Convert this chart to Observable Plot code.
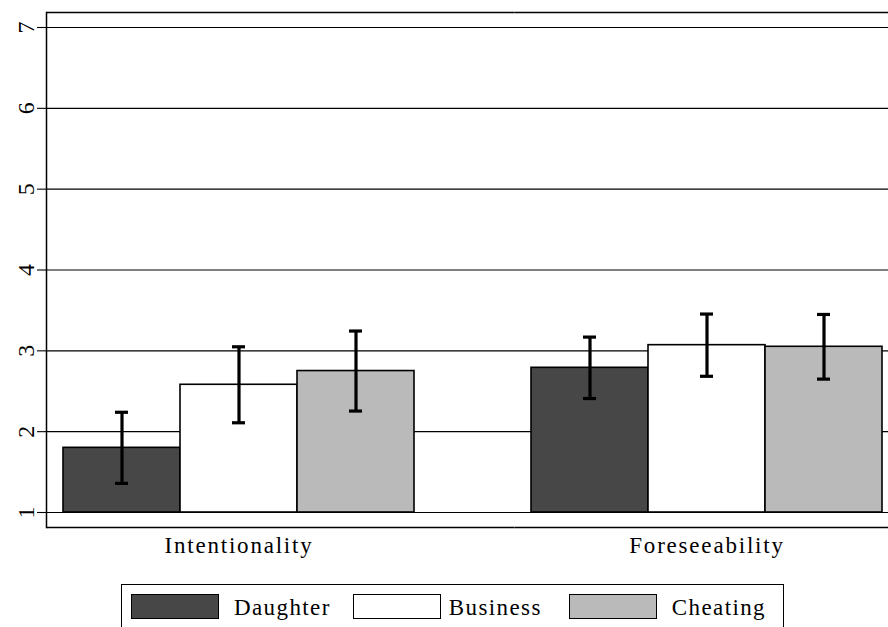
<!DOCTYPE html>
<html>
<head>
<meta charset="utf-8">
<script src="https://cdn.jsdelivr.net/npm/d3@7"></script>
<script src="https://cdn.jsdelivr.net/npm/@observablehq/plot@0.6"></script>
<style>
  html, body { margin: 0; padding: 0; background: #fff; overflow: hidden; width: 888px; height: 627px; }
  #chart svg { display: block; }
  #chart [aria-label="text"] text { letter-spacing: 1.8px; }
  #chart [aria-label="y-axis tick label"], #chart [aria-label="y-axis tick label"] text { font-size: 24px !important; }
  #legend {
    margin-top: 24px; margin-left: 121px; width: 663px; height: 48px;
    border: 1.5px solid #000; box-sizing: border-box;
    display: flex; align-items: flex-start; padding-top: 9px;
    font-family: "Liberation Serif", serif; font-size: 23px; letter-spacing: 1.4px; color: #000;
  }
  #legend .sw { width: 88px; height: 25px; border: 1.5px solid #000; box-sizing: border-box; flex: none; }
  #legend .lab { line-height: 27px; white-space: nowrap; }
</style>
</head>
<body>
<div id="chart"></div>
<div id="legend"></div>
<script>
// Data
const measures = ["Intentionality", "Foreseeability"];
const scenarios = ["Daughter", "Business", "Cheating"];
const intentionalityMeans = [1.80, 2.58, 2.75];
const intentionalityErrors = [0.44, 0.47, 0.495];
const foreseeabilityMeans = [2.79, 3.07, 3.05];
const foreseeabilityErrors = [0.38, 0.385, 0.40];
const yTicks = [1, 2, 3, 4, 5, 6, 7];
const scenarioFills = ["#474747", "#ffffff", "#bababa"];

const meanRows = [intentionalityMeans, foreseeabilityMeans];
const errorRows = [intentionalityErrors, foreseeabilityErrors];
const data = [];
measures.forEach((m, i) => scenarios.forEach((s, j) => {
  data.push({measure: m, scenario: s, mean: meanRows[i][j], err: errorRows[i][j]});
}));

const ink = "#000";
const plot = Plot.plot({
  width: 888,
  height: 560,
  marginLeft: 46,
  marginRight: 0,
  marginTop: 12,
  marginBottom: 33,
  style: {fontFamily: "'Liberation Serif', serif", background: "#fff", color: ink},
  fx: {domain: measures, range: [46, 982], padding: 0, label: null, axis: null},
  x: {domain: scenarios, paddingInner: 0, paddingOuter: 0.4886, align: 0.148, axis: null},
  y: {domain: [1, 7], insetTop: 15, insetBottom: 15, label: null},
  color: {domain: scenarios, range: scenarioFills},
  marks: [
    Plot.gridY(yTicks, {stroke: ink, strokeOpacity: 1, strokeWidth: 1.1}),
    Plot.axisY(yTicks, {
      anchor: "left", tickSize: 9, tickPadding: 4, tickRotate: -90,
      textAnchor: "middle", lineAnchor: "bottom", tickFormat: d => String(d),
      fontSize: 24, label: null, stroke: ink, strokeWidth: 1.1
    }),
    // group labels, centred under the middle bar of each group
    Plot.text(measures, {
      fx: d => d, x: () => scenarios[1], text: d => d,
      frameAnchor: "bottom", lineAnchor: "top", dy: 9,
      fontSize: 23, fill: ink
    }),
    Plot.barY(data, {
      fx: "measure", x: "scenario", y1: 1, y2: "mean",
      fill: "scenario", stroke: ink, strokeWidth: 1.6
    }),
    Plot.ruleX(data, {
      fx: "measure", x: "scenario",
      y1: d => d.mean - d.err, y2: d => d.mean + d.err,
      stroke: ink, strokeWidth: 3.2
    }),
    Plot.tickY(data, {
      fx: "measure", x: "scenario", y: d => d.mean + d.err,
      stroke: ink, strokeWidth: 3.2, insetLeft: 52, insetRight: 52
    }),
    Plot.tickY(data, {
      fx: "measure", x: "scenario", y: d => d.mean - d.err,
      stroke: ink, strokeWidth: 3.2, insetLeft: 52, insetRight: 52
    }),
    Plot.frame({anchor: "top", stroke: ink, strokeWidth: 1.5, strokeLinecap: "butt"}),
    Plot.frame({anchor: "bottom", stroke: ink, strokeWidth: 1.5, strokeLinecap: "butt"}),
    Plot.frame({anchor: "left", facetAnchor: "left", stroke: ink, strokeWidth: 1.5})
  ]
});
document.getElementById("chart").append(plot);

// Legend
const legend = document.getElementById("legend");
const swGap = [9, 22, 27];
const labGap = [15, 8, 15];
scenarios.forEach((s, i) => {
  const sw = document.createElement("div");
  sw.className = "sw";
  sw.style.background = scenarioFills[i];
  sw.style.marginLeft = swGap[i] + "px";
  const lab = document.createElement("div");
  lab.className = "lab";
  lab.textContent = s;
  lab.style.marginLeft = labGap[i] + "px";
  legend.append(sw, lab);
});
</script>
</body>
</html>
